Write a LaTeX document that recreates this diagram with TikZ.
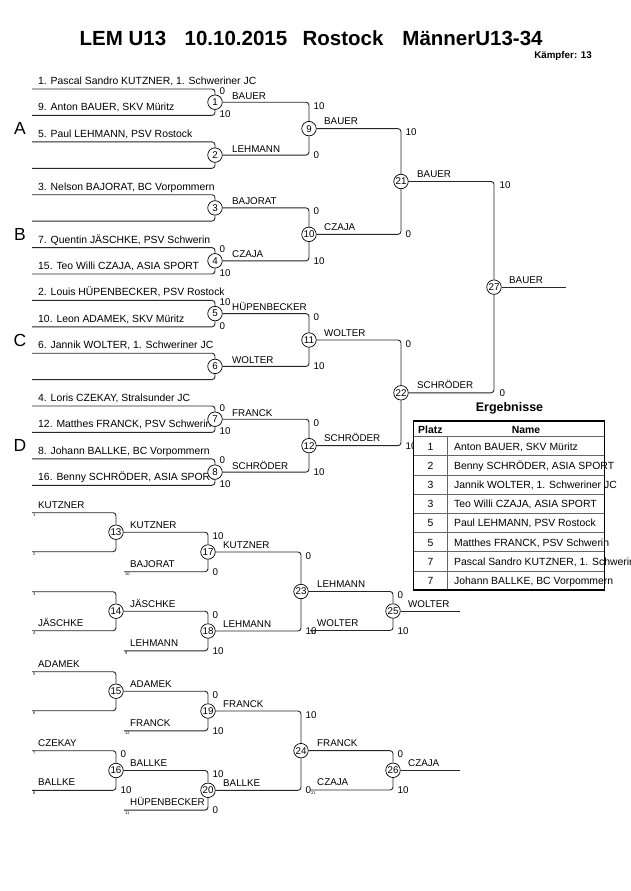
\documentclass[tikz,border=0pt]{standalone}
\usepackage{fontspec}
\setmainfont{Liberation Sans}
\pgfdeclarelayer{bg}
\pgfsetlayers{bg,main}
\begin{document}
\begin{tikzpicture}[x=1pt,y=-1pt,
  conn/.style={draw=black!85,line width=0.9pt,rounded corners=3pt},
  mc/.style={circle,draw=black,line width=0.7pt,fill=white,minimum size=14.5pt,inner sep=0pt,font=\fontsize{9.8}{11}\selectfont},
  nm/.style={anchor=base west,inner sep=0pt,font=\fontsize{10.4}{12}\selectfont},
  lb/.style={anchor=base west,inner sep=0pt,font=\fontsize{9.8}{12}\selectfont},
  sc/.style={anchor=base west,inner sep=0pt,font=\fontsize{9.8}{12}\selectfont},
  tn/.style={anchor=north west,inner sep=0pt,font=\fontsize{4}{5}\selectfont},
  grp/.style={inner sep=0pt,font=\fontsize{17.5}{20}\selectfont},
  ttl/.style={anchor=base,inner sep=0pt,font=\fontsize{20.5}{24}\selectfont\bfseries},
  tbl/.style={inner sep=0pt,font=\fontsize{10.4}{12}\selectfont},
]
\useasboundingbox (0,0) rectangle (630,891);
\clip (0,0) rectangle (630,891);

% ---------- circles (matches) ----------
\node[mc] (m1) at (215,102.2) {1};
\node[mc] (m2) at (215,155.1) {2};
\node[mc] (m3) at (215,207.9) {3};
\node[mc] (m4) at (215,260.8) {4};
\node[mc] (m5) at (215,313.6) {5};
\node[mc] (m6) at (215,366.4) {6};
\node[mc] (m7) at (215,419.2) {7};
\node[mc] (m8) at (215,472.1) {8};
\node[mc] (m9) at (309,128.65) {9};
\node[mc] (m10) at (309,234.35) {10};
\node[mc] (m11) at (309,340) {11};
\node[mc] (m12) at (309,445.65) {12};
\node[mc] (m21) at (401,181.5) {21};
\node[mc] (m22) at (401,392.8) {22};
\node[mc] (m27) at (494,287.15) {27};

\node[mc] (m13) at (116,532.2) {13};
\node[mc] (m14) at (116,611.2) {14};
\node[mc] (m15) at (116,691.2) {15};
\node[mc] (m16) at (116,770.5) {16};
\node[mc] (m17) at (208,552) {17};
\node[mc] (m18) at (208,631) {18};
\node[mc] (m19) at (208,711) {19};
\node[mc] (m20) at (208,790.3) {20};
\node[mc] (m23) at (301,591.5) {23};
\node[mc] (m24) at (301,750.65) {24};
\node[mc] (m25) at (393,611) {25};
\node[mc] (m26) at (393,770.3) {26};

% ---------- entry coordinates ----------
\coordinate (e1a) at (32,89);    \coordinate (e1b) at (32,115.4);
\coordinate (e2a) at (32,141.9); \coordinate (e2b) at (32,168.3);
\coordinate (e3a) at (32,194.7); \coordinate (e3b) at (32,221.1);
\coordinate (e4a) at (32,247.6); \coordinate (e4b) at (32,274);
\coordinate (e5a) at (32,300.4); \coordinate (e5b) at (32,326.8);
\coordinate (e6a) at (32,353.2); \coordinate (e6b) at (32,379.6);
\coordinate (e7a) at (32,406);   \coordinate (e7b) at (32,432.4);
\coordinate (e8a) at (32,458.9); \coordinate (e8b) at (32,485.3);
\coordinate (fin) at (566,287.15);

\coordinate (e13a) at (32,512.7); \coordinate (e13b) at (32,551.7);
\coordinate (e14a) at (32,591.7); \coordinate (e14b) at (32,630.7);
\coordinate (e15a) at (32,671.7); \coordinate (e15b) at (32,710.7);
\coordinate (e16a) at (32,750.7); \coordinate (e16b) at (32,790.3);
\coordinate (ebaj) at (124,571.7);
\coordinate (eleh) at (124,650.8);
\coordinate (efra) at (124,730.8);
\coordinate (ehup) at (124,810.1);
\coordinate (ewol) at (310,630.5);
\coordinate (ecza) at (310,790);
\coordinate (f25) at (460,611);
\coordinate (f26) at (460,770.3);

% ---------- connectors ----------
\foreach \m in {1,...,8}{
  \draw[conn] (e\m a) -| (m\m);
  \draw[conn] (e\m b) -| (m\m);
}
\draw[conn] (m1) -| (m9);  \draw[conn] (m2) -| (m9);
\draw[conn] (m3) -| (m10); \draw[conn] (m4) -| (m10);
\draw[conn] (m5) -| (m11); \draw[conn] (m6) -| (m11);
\draw[conn] (m7) -| (m12); \draw[conn] (m8) -| (m12);
\draw[conn] (m9) -| (m21); \draw[conn] (m10) -| (m21);
\draw[conn] (m11) -| (m22); \draw[conn] (m12) -| (m22);
\draw[conn] (m21) -| (m27); \draw[conn] (m22) -| (m27);
\draw[conn] (m27) -- (fin);

\foreach \m in {13,14,15,16}{
  \draw[conn] (e\m a) -| (m\m);
  \draw[conn] (e\m b) -| (m\m);
}
\draw[conn] (m13) -| (m17); \draw[conn] (ebaj) -| (m17);
\draw[conn] (m14) -| (m18); \draw[conn] (eleh) -| (m18);
\draw[conn] (m15) -| (m19); \draw[conn] (efra) -| (m19);
\draw[conn] (m16) -| (m20); \draw[conn] (ehup) -| (m20);
\draw[conn] (m17) -| (m23); \draw[conn] (m18) -| (m23);
\draw[conn] (m19) -| (m24); \draw[conn] (m20) -| (m24);
\draw[conn] (m23) -| (m25); \draw[conn] (ewol) -| (m25);
\draw[conn] (m24) -| (m26); \draw[conn] (ecza) -| (m26);
\draw[conn] (m25) -- (f25);
\draw[conn] (m26) -- (f26);

\begin{pgfonlayer}{bg}
\fill[white] (0,0) rectangle (630,891);
% title
\node[ttl] (t1) at (123,46) {LEM U13};
\node[ttl] (t2) at (236,46) {10.10.2015};
\node[ttl] (t3) at (343,46) {Rostock};
\node[ttl] (t4) at (472.5,46) {MännerU13-34};
\node[anchor=base east,inner sep=0pt,font=\fontsize{9.8}{12}\selectfont\bfseries] (kf) at (592,58.5) {Kämpfer: 13};

% group letters
\node[grp] (gA) at (20,128.5) {A};
\node[grp] (gB) at (20,234) {B};
\node[grp] (gC) at (20,340) {C};
\node[grp] (gD) at (20,445.5) {D};

% entrant names
\node[nm] (n1a) at (38,84.5) {1. Pascal Sandro KUTZNER, 1. Schweriner JC};
\node[nm] (n1b) at (38,110.9) {9. Anton BAUER, SKV Müritz};
\node[nm] (n2a) at (38,137.4) {5. Paul LEHMANN, PSV Rostock};
\node[nm] (n3a) at (38,190.2) {3. Nelson BAJORAT, BC Vorpommern};
\node[nm] (n4a) at (38,243.1) {7. Quentin JÄSCHKE, PSV Schwerin};
\node[nm] (n4b) at (38,269.5) {15. Teo Willi CZAJA, ASIA SPORT};
\node[nm] (n5a) at (38,295.9) {2. Louis HÜPENBECKER, PSV Rostock};
\node[nm] (n5b) at (38,322.3) {10. Leon ADAMEK, SKV Müritz};
\node[nm] (n6a) at (38,348.7) {6. Jannik WOLTER, 1. Schweriner JC};
\node[nm] (n7a) at (38,401.5) {4. Loris CZEKAY, Stralsunder JC};
\node[nm] (n7b) at (38,427.9) {12. Matthes FRANCK, PSV Schwerin};
\node[nm] (n8a) at (38,454.4) {8. Johann BALLKE, BC Vorpommern};
\node[nm] (n8b) at (38,480.8) {16. Benny SCHRÖDER, ASIA SPORT};

% round 1 winners
\node[lb] (w1) at (232,99.2) {BAUER};
\node[lb] (w2) at (232,152.1) {LEHMANN};
\node[lb] (w3) at (232,204.9) {BAJORAT};
\node[lb] (w4) at (232,257.8) {CZAJA};
\node[lb] (w5) at (232,310.6) {HÜPENBECKER};
\node[lb] (w6) at (232,363.4) {WOLTER};
\node[lb] (w7) at (232,416.2) {FRANCK};
\node[lb] (w8) at (232,469.1) {SCHRÖDER};
% round 2 winners
\node[lb] (w9) at (324,124.65) {BAUER};
\node[lb] (w10) at (324,230.35) {CZAJA};
\node[lb] (w11) at (324,336) {WOLTER};
\node[lb] (w12) at (324,441.65) {SCHRÖDER};
\node[lb] (w21) at (417,177.5) {BAUER};
\node[lb] (w22) at (417,388.8) {SCHRÖDER};
\node[lb] (w27) at (509,283) {BAUER};

% round 1 scores
\node[sc] (s1a) at (219.5,94) {0};   \node[sc] (s1b) at (219.5,117.9) {10};
\node[sc] (s4a) at (219.5,252.6) {0}; \node[sc] (s4b) at (219.5,276.5) {10};
\node[sc] (s5a) at (219.5,305.4) {10};\node[sc] (s5b) at (219.5,329.3) {0};
\node[sc] (s7a) at (219.5,411) {0};   \node[sc] (s7b) at (219.5,434.9) {10};
\node[sc] (s8a) at (219.5,463.9) {0}; \node[sc] (s8b) at (219.5,487.8) {10};
% round 2 scores
\node[sc] (s9a) at (313.5,109.2) {10}; \node[sc] (s9b) at (313.5,158.6) {0};
\node[sc] (s10a) at (313.5,214.9) {0}; \node[sc] (s10b) at (313.5,264.3) {10};
\node[sc] (s11a) at (313.5,320.6) {0}; \node[sc] (s11b) at (313.5,369.9) {10};
\node[sc] (s12a) at (313.5,426.2) {0}; \node[sc] (s12b) at (313.5,475.6) {10};
\node[sc] (s21a) at (405.5,135.65) {10};\node[sc] (s21b) at (405.5,237.85) {0};
\node[sc] (s22a) at (405.5,347) {0};    \node[sc] (s22b) at (405.5,449.15) {10};
\node[sc] (s27a) at (499.5,188.5) {10}; \node[sc] (s27b) at (499.5,396.3) {0};

% repechage labels
\node[lb] (r13a) at (38,508.2) {KUTZNER};
\node[lb] (r14b) at (38,626.2) {JÄSCHKE};
\node[lb] (r15a) at (38,667.2) {ADAMEK};
\node[lb] (r16a) at (38,746.2) {CZEKAY};
\node[lb] (r16b) at (38,785.8) {BALLKE};
\node[lb] (w13) at (130,528.2) {KUTZNER};
\node[lb] (w14) at (130,607.2) {JÄSCHKE};
\node[lb] (w15) at (130,687.2) {ADAMEK};
\node[lb] (w16) at (130,766.5) {BALLKE};
\node[lb] (rbaj) at (130,567.2) {BAJORAT};
\node[lb] (rleh) at (130,646.3) {LEHMANN};
\node[lb] (rfra) at (130,726.3) {FRANCK};
\node[lb] (rhup) at (130,805.6) {HÜPENBECKER};
\node[lb] (w17) at (223,548) {KUTZNER};
\node[lb] (w18) at (223,627) {LEHMANN};
\node[lb] (w19) at (223,707) {FRANCK};
\node[lb] (w20) at (223,786.3) {BALLKE};
\node[lb] (w23) at (317,587.5) {LEHMANN};
\node[lb] (rwol) at (317,626) {WOLTER};
\node[lb] (w24) at (317,746.6) {FRANCK};
\node[lb] (rcza) at (317,785.5) {CZAJA};
\node[lb] (w25) at (408,607) {WOLTER};
\node[lb] (w26) at (408,766.3) {CZAJA};

% tiny seed numbers
\node[tn] (k1) at (33,513.7) {1};
\node[tn] (k2) at (33,552.7) {2};
\node[tn] (k10) at (125,572.7) {10};
\node[tn] (k3) at (33,592.7) {3};
\node[tn] (k4) at (33,631.7) {4};
\node[tn] (k9) at (125,651.8) {9};
\node[tn] (k22) at (311,631.5) {22};
\node[tn] (k5) at (33,672.7) {5};
\node[tn] (k6) at (33,711.7) {6};
\node[tn] (k12) at (125,731.8) {12};
\node[tn] (k7) at (33,751.7) {7};
\node[tn] (k8) at (33,791.3) {8};
\node[tn] (k11) at (125,811.1) {11};
\node[tn] (k21) at (311,791) {21};

% repechage scores
\node[sc] (s16a) at (120.5,757.7) {0};  \node[sc] (s16b) at (120.5,793.8) {10};
\node[sc] (s17a) at (212.5,539.2) {10}; \node[sc] (s17b) at (212.5,575.2) {0};
\node[sc] (s18a) at (212.5,618.2) {0};  \node[sc] (s18b) at (212.5,654.3) {10};
\node[sc] (s19a) at (212.5,698.2) {0};  \node[sc] (s19b) at (212.5,734.3) {10};
\node[sc] (s20a) at (212.5,777.5) {10}; \node[sc] (s20b) at (212.5,813.6) {0};
\node[sc] (s23a) at (305.5,559) {0};    \node[sc] (s23b) at (305.5,634.5) {10};
\node[sc] (s24a) at (305.5,718) {10};   \node[sc] (s24b) at (305.5,793.8) {0};
\node[sc] (s25a) at (397.5,598.5) {0};  \node[sc] (s25b) at (397.5,634) {10};
\node[sc] (s26a) at (397.5,757.65) {0}; \node[sc] (s26b) at (397.5,793.5) {10};
\end{pgfonlayer}

% ---------- results table ----------
\node[anchor=base,inner sep=0pt,font=\fontsize{12.5}{14}\selectfont\bfseries] (erg) at (509.5,411) {Ergebnisse};
\fill[white] (413.5,421) rectangle (604.5,590);
\node[tbl,anchor=base west,font=\fontsize{10.4}{12}\selectfont\bfseries] (hp) at (418,433) {Platz};
\node[tbl,anchor=base,font=\fontsize{10.4}{12}\selectfont\bfseries] (hn) at (526,433) {Name};
\foreach \i/\p/\n in {0/1/{Anton BAUER, SKV Müritz},
                      1/2/{Benny SCHRÖDER, ASIA SPORT},
                      2/3/{Jannik WOLTER, 1. Schweriner JC},
                      3/3/{Teo Willi CZAJA, ASIA SPORT},
                      4/5/{Paul LEHMANN, PSV Rostock},
                      5/5/{Matthes FRANCK, PSV Schwerin},
                      6/7/{Pascal Sandro KUTZNER, 1. Schweriner JC},
                      7/7/{Johann BALLKE, BC Vorpommern}}{
  \node[tbl,anchor=base] (tp\i) at (430.6,450.1+19.2*\i) {\p};
  \node[tbl,anchor=base west] (tn\i) at (454,450.1+19.2*\i) {\n};
}
\foreach \i in {0,...,7}{
  \draw[gray!80!black,line width=0.8pt] (413.5,436.5+19.2*\i) -- (604.5,436.5+19.2*\i);
}
\draw[gray!80!black,line width=0.8pt] (447.7,436.5) -- (447.7,590);
\draw[black,line width=1.8pt] (413.5,421) rectangle (604.5,590);
\end{tikzpicture}
\end{document}
